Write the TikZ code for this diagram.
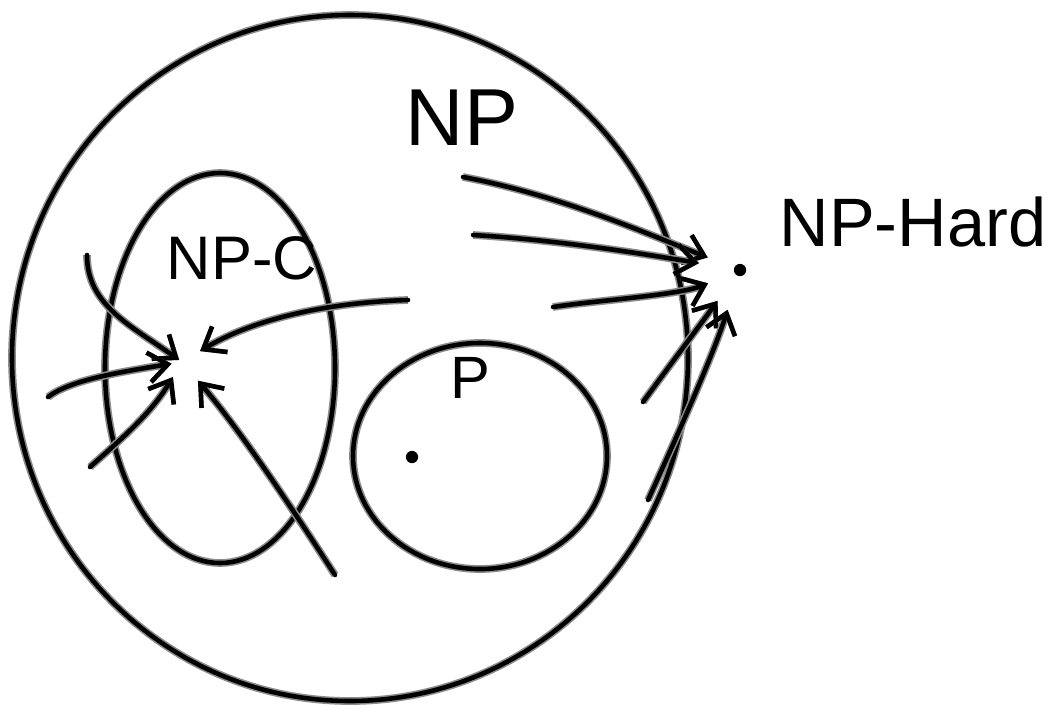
\documentclass[tikz,border=0pt]{standalone}
\usepackage{fontspec}
\setmainfont{Liberation Sans}
\usetikzlibrary{arrows.meta,positioning}

\begin{document}
\begin{tikzpicture}[x=0.02cm, y=-0.02cm]
    \tikzstyle{hand} = [line width=2.6pt, line cap=round, line join=round, preaction={draw=black!45, line width=4.4pt}]
    \tikzstyle{arr} = [hand, -{Straight Barb[length=11pt, width=17pt, line width=2.6pt]}, shorten >=6pt]
    \tikzstyle{spot} = [circle, fill=black, inner sep=0pt, minimum size=7pt]
    \useasboundingbox (0,0) rectangle (1058,704);
    \fill[white] (0,0) rectangle (1058,704);

    % the three sets
    \draw[hand] (350,358) ellipse [x radius=338, y radius=343];
    \draw[hand] (220,368) ellipse [x radius=115, y radius=195];
    \draw[hand] (480,456) ellipse [x radius=127, y radius=113];

    \node[font=\fontsize{46}{46}\selectfont] (np) at (462,118) {NP};
    \node[font=\fontsize{35}{35}\selectfont] (npc) at (242,258) {NP-C};
    \node[font=\fontsize{34}{34}\selectfont] (p) at (470,378) {P};
    \node[font=\fontsize{39}{39}\selectfont] (nph) at (913,222) {NP-Hard};

    \node[spot] (pdot) at (412,457) {};
    \node[spot] (hard) at (740,270) {};
    \coordinate (core) at (182,362);

    % arrows into NP-C
    \coordinate (c1) at (87,255);
    \coordinate (c2) at (48,397);
    \coordinate (c3) at (90,467);
    \coordinate (c4) at (335,575);
    \coordinate (c5) at (408,300);
    \draw[arr, shorten >=2pt] (c1) .. controls (87,305) and (130,325) .. (core);
    \draw[arr] (c2) .. controls (70,380) and (120,372) .. (core);
    \draw[arr, shorten >=10pt] (c3) .. controls (120,440) and (150,415) .. (core);
    \draw[arr, shorten >=14pt] (c4) .. controls (290,505) and (240,430) .. (core);
    \draw[arr, shorten >=12pt] (c5) .. controls (340,302) and (260,315) .. (core);

    % arrows into NP-Hard
    \coordinate (h1) at (463,177);
    \coordinate (h2) at (473,235);
    \coordinate (h3) at (553,307);
    \coordinate (h4) at (643,402);
    \coordinate (h5) at (648,500);
    \draw[arr, shorten >=16pt] (h1) .. controls (560,195) and (650,235) .. (hard);
    \draw[arr, shorten >=20pt] (h2) .. controls (560,240) and (650,255) .. (hard);
    \draw[arr, shorten >=16pt] (h3) .. controls (600,300) and (680,295) .. (hard);
    \draw[arr, shorten >=18pt] (h4) .. controls (670,365) and (700,325) .. (hard);
    \draw[arr, shorten >=20pt] (h5) .. controls (680,430) and (715,350) .. (hard);
\end{tikzpicture}
\end{document}
